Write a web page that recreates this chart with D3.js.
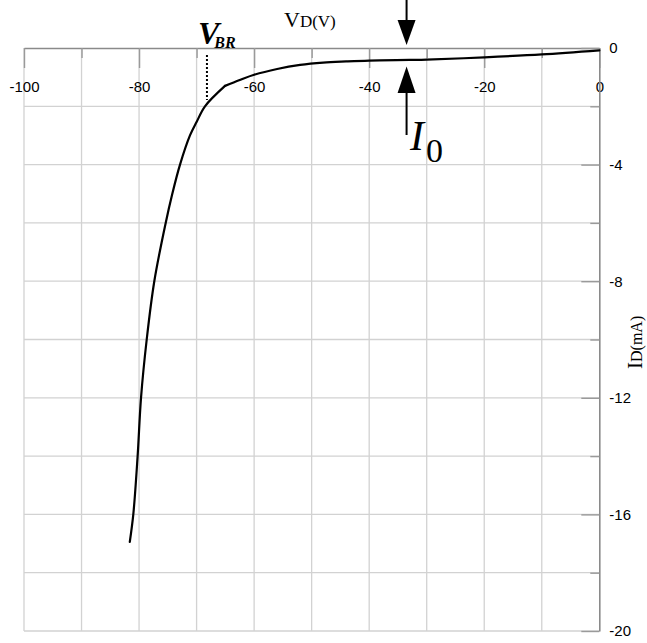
<!DOCTYPE html>
<html>
<head>
<meta charset="utf-8">
<script src="https://cdn.jsdelivr.net/npm/d3@7"></script>
<style>
  html, body { margin: 0; padding: 0; background: #fff; }
  svg { display: block; }
  .tick text { font-family: "Liberation Sans", Arial, Helvetica, sans-serif; font-size: 15px; fill: #000; }
</style>
</head>
<body>
<svg id="chart" width="647" height="643"></svg>
<script>
// Reverse-bias diode characteristic: voltage (V) and current (mA)
// Breakdown branch (steep) and leakage branch (flat) meet at the knee near -65 V.
const breakdownVoltageData = [-81.61, -81.0, -80.25, -79.66, -78.67, -77.35, -75.37, -74.22,
                              -72.88, -71.15, -69.98, -68.54, -65.06];
const breakdownCurrentData = [-16.94, -16.0, -14.0, -12.0, -10.0, -8.0, -6.0, -5.0,
                              -4.0, -3.0, -2.53, -2.0, -1.3];
const leakageVoltageData = [-65.06, -62.5, -60.0, -56.0, -52.0, -48.0, -44.0, -40.0, -33.0, -30.0,
                            -20.0, -10.0, 0];
const leakageCurrentData = [-1.3, -1.1, -0.92, -0.72, -0.58, -0.50, -0.46, -0.43, -0.41, -0.40,
                            -0.32, -0.22, -0.08];

const xMajorTicks = [-100, -80, -60, -40, -20, 0];
const xMinorTicks = [-90, -70, -50, -30, -10];
const yMajorTicks = [0, -4, -8, -12, -16, -20];
const yMinorTicks = [-2, -6, -10, -14, -18];

const breakdownVoltage = -68.2;   // V_BR marker
const saturationVoltage = -33.5;  // position of the I0 arrows

const svg = d3.select("#chart");
const x = d3.scaleLinear().domain([-100, 0]).range([24, 599.3]);
const y = d3.scaleLinear().domain([0, -20]).range([48, 631]);

// grid
const grid = svg.append("g").attr("stroke", "#d2d2d2").attr("stroke-width", 1.3);
grid.selectAll("line.v").data(d3.range(-100, 0, 10)).join("line")
  .attr("x1", d => x(d)).attr("x2", d => x(d))
  .attr("y1", y(0)).attr("y2", y(-20));
grid.selectAll("line.h").data(d3.range(-2, -21, -2)).join("line")
  .attr("x1", x(-100)).attr("x2", x(0))
  .attr("y1", d => y(d)).attr("y2", d => y(d));

const fmt = d => String(d);

// top voltage axis, labels sit inside the plot
const xAxis = svg.append("g").attr("transform", `translate(0,${y(0)})`)
  .call(d3.axisTop(x).tickValues(xMajorTicks).tickSizeInner(-20).tickSizeOuter(0)
        .tickPadding(-44).tickFormat(fmt));
svg.append("g").attr("transform", `translate(0,${y(0)})`)
  .call(d3.axisTop(x).tickValues(xMinorTicks).tickSizeInner(-10).tickSizeOuter(0).tickFormat(""))
  .call(g => g.select(".domain").remove());

// right current axis
svg.append("g").attr("transform", `translate(${x(0)},0)`)
  .call(d3.axisRight(y).tickValues(yMajorTicks).tickSizeInner(-18).tickSizeOuter(0)
        .tickPadding(10).tickFormat(fmt));
svg.append("g").attr("transform", `translate(${x(0)},0)`)
  .call(d3.axisRight(y).tickValues(yMinorTicks).tickSizeInner(-9).tickSizeOuter(0).tickFormat(""))
  .call(g => g.select(".domain").remove());

svg.selectAll(".domain").attr("stroke", "#8a8a8a").attr("stroke-width", 1.6);
svg.selectAll(".tick line").attr("stroke", "#9a9a9a").attr("stroke-width", 1.4);
xAxis.selectAll(".tick text").attr("dy", "0em");

// I-V curve, drawn as two smooth branches meeting at the knee
const line = d3.line().x(d => x(d[0])).y(d => y(d[1])).curve(d3.curveCatmullRom.alpha(0.5));
const branches = [
  breakdownVoltageData.map((v, i) => [v, breakdownCurrentData[i]]),
  leakageVoltageData.map((v, i) => [v, leakageCurrentData[i]])
];
svg.selectAll("path.iv").data(branches).join("path")
  .attr("class", "iv")
  .attr("fill", "none").attr("stroke", "#000").attr("stroke-width", 2.2)
  .attr("stroke-linejoin", "round").attr("stroke-linecap", "round")
  .attr("d", line);

// breakdown marker
svg.append("line")
  .attr("x1", x(breakdownVoltage)).attr("x2", x(breakdownVoltage))
  .attr("y1", 55).attr("y2", 100)
  .attr("stroke", "#000").attr("stroke-width", 2).attr("stroke-dasharray", "2,2");
const vbr = svg.append("text").attr("x", 198).attr("y", 43.5)
  .attr("font-family", "'Liberation Serif', 'Times New Roman', serif")
  .attr("font-weight", "bold").attr("font-style", "italic");
vbr.append("tspan").attr("font-size", 32).text("V");
vbr.append("tspan").attr("font-size", 16).attr("dx", -5).attr("dy", 4).text("BR");

// axis titles
const vt = svg.append("text").attr("x", 284).attr("y", 27)
  .attr("font-family", "'Liberation Serif', 'Times New Roman', serif");
vt.append("tspan").attr("font-size", 22).text("V");
vt.append("tspan").attr("font-size", 17).text("D(V)");

const it = svg.append("text").attr("transform", "translate(642,369) rotate(-90)")
  .attr("font-family", "'Liberation Serif', 'Times New Roman', serif");
it.append("tspan").attr("font-size", 21).text("I");
it.append("tspan").attr("font-size", 16).text("D(mA)");

// I0 arrows
const ax = x(saturationVoltage);
svg.append("line").attr("x1", ax).attr("x2", ax).attr("y1", 0).attr("y2", 22)
  .attr("stroke", "#000").attr("stroke-width", 2);
svg.append("path").attr("d", `M${ax - 9},20 L${ax + 9},20 L${ax},45 Z`).attr("fill", "#000");
svg.append("path").attr("d", `M${ax - 9},93 L${ax + 9},93 L${ax},66.5 Z`).attr("fill", "#000");
svg.append("line").attr("x1", ax).attr("x2", ax).attr("y1", 90).attr("y2", 135)
  .attr("stroke", "#000").attr("stroke-width", 2);

const i0 = svg.append("text").attr("x", 410).attr("y", 150)
  .attr("font-family", "'Liberation Serif', 'Times New Roman', serif");
i0.append("tspan").attr("font-size", 42).attr("font-style", "italic").text("I");
i0.append("tspan").attr("font-size", 34).attr("dx", 2).attr("dy", 12).text("0");
</script>
</body>
</html>
